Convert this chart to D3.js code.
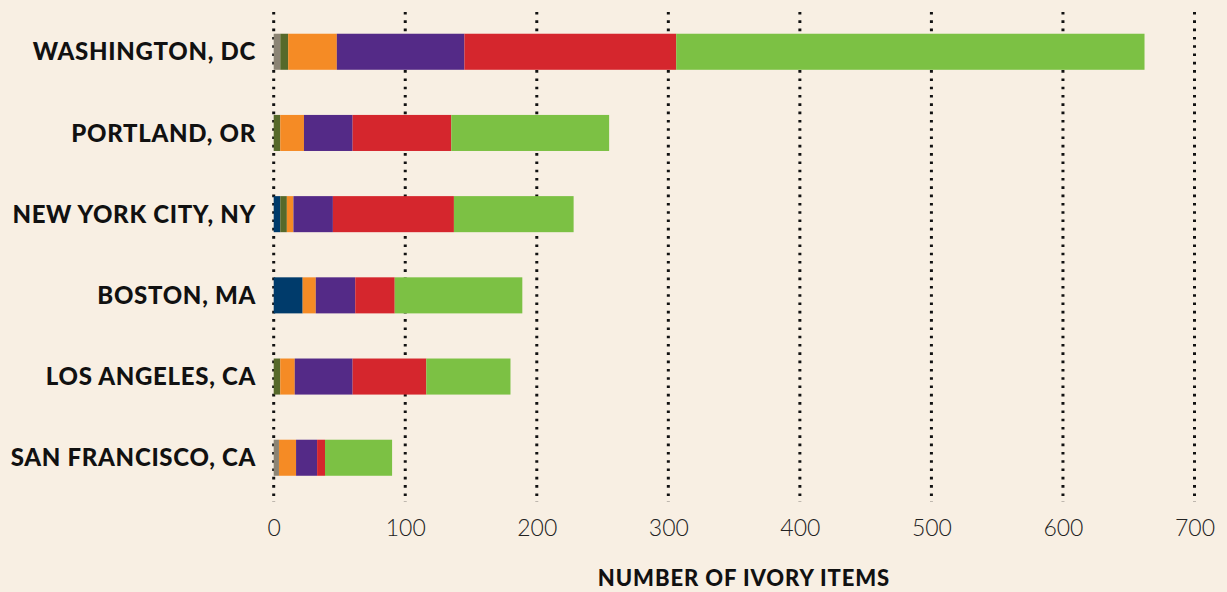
<!DOCTYPE html>
<html>
<head>
<meta charset="utf-8">
<title>ivory</title>
<style>
  body { margin: 0; background: #F8EFE3; }
  svg { display: block; }
</style>
</head>
<body>
<div id="chart"></div>
<script src="https://cdn.jsdelivr.net/npm/d3@7/dist/d3.min.js"></script>
<script>
// cities, top to bottom
var cities = ['WASHINGTON, DC', 'PORTLAND, OR', 'NEW YORK CITY, NY', 'BOSTON, MA', 'LOS ANGELES, CA', 'SAN FRANCISCO, CA'];

// stacked segments, left to right (no legend in the original, named by colour)
var grey   = [5, 0, 0, 0, 0, 4];
var navy   = [0, 0, 5, 22, 0, 0];
var olive  = [6, 5, 5, 0, 5, 0];
var orange = [37, 18, 5, 10, 11, 13];
var purple = [97, 37, 30, 30, 44, 16];
var red    = [161, 75, 92, 30, 56, 6];
var green  = [356, 120, 91, 97, 64, 51];

var xTicks = [0, 100, 200, 300, 400, 500, 600, 700];

var seriesKeys = ['grey', 'navy', 'olive', 'orange', 'purple', 'red', 'green'];
var seriesVals = [grey, navy, olive, orange, purple, red, green];
var colors = ['#8C8474', '#003B6B', '#56692A', '#F58B25', '#542A87', '#D5262D', '#7CC144'];

var W = 1227, H = 592;

var svg = d3.select('#chart')
  .append('svg')
  .attr('width', W)
  .attr('height', H);

svg.append('rect')
  .attr('width', W).attr('height', H)
  .attr('fill', '#F8EFE3');

var x = d3.scaleLinear()
  .domain([0, 700])
  .range([273.7, 1194.5]);

var y = d3.scaleBand()
  .domain(cities)
  .range([11, 498.5])
  .paddingInner(0.556)
  .paddingOuter(0.28);

// build table for stack
var table = cities.map(function(c, i) {
  var row = { city: c };
  seriesKeys.forEach(function(k, j) { row[k] = seriesVals[j][i]; });
  return row;
});

var stacked = d3.stack().keys(seriesKeys)(table);

// dotted grid
svg.append('g')
  .selectAll('line')
  .data(xTicks)
  .join('line')
  .attr('x1', d => x(d)).attr('x2', d => x(d))
  .attr('y1', 12).attr('y2', 502)
  .attr('stroke', '#111')
  .attr('stroke-width', 3)
  .attr('stroke-dasharray', '2.6,5.7');

// bars
svg.append('g')
  .selectAll('g')
  .data(stacked)
  .join('g')
  .attr('fill', (d, i) => colors[i])
  .selectAll('rect')
  .data(d => d)
  .join('rect')
  .attr('x', d => x(d[0]))
  .attr('width', d => x(d[1]) - x(d[0]))
  .attr('y', d => y(d.data.city))
  .attr('height', y.bandwidth());

// city labels
svg.append('g')
  .selectAll('text')
  .data(cities)
  .join('text')
  .attr('x', 256)
  .attr('y', d => y(d) + y.bandwidth() / 2)
  .attr('dy', '0.36em')
  .attr('text-anchor', 'end')
  .style('font-family', 'Lato, sans-serif')
  .style('font-weight', 900)
  .style('font-size', '24px')
  .style('letter-spacing', '0.7px')
  .attr('fill', '#111')
  .text(d => d);

// x axis labels
var xAxis = d3.axisBottom(x).tickValues(xTicks).tickSize(0).tickPadding(0);
var ax = svg.append('g')
  .attr('transform', 'translate(0, 520)')
  .call(xAxis);
ax.select('.domain').remove();
ax.selectAll('text')
  .attr('dy', '0.71em')
  .attr('x', 0)
  .style('font-family', 'Lato, sans-serif')
  .style('font-weight', 300)
  .style('font-size', '23px')
  .attr('fill', '#222');

svg.append('text')
  .attr('x', 744)
  .attr('y', 586)
  .attr('text-anchor', 'middle')
  .style('font-family', 'Lato, sans-serif')
  .style('font-weight', 900)
  .style('font-size', '22px')
  .style('letter-spacing', '0.9px')
  .attr('fill', '#111')
  .text('NUMBER OF IVORY ITEMS');
</script>
</body>
</html>
